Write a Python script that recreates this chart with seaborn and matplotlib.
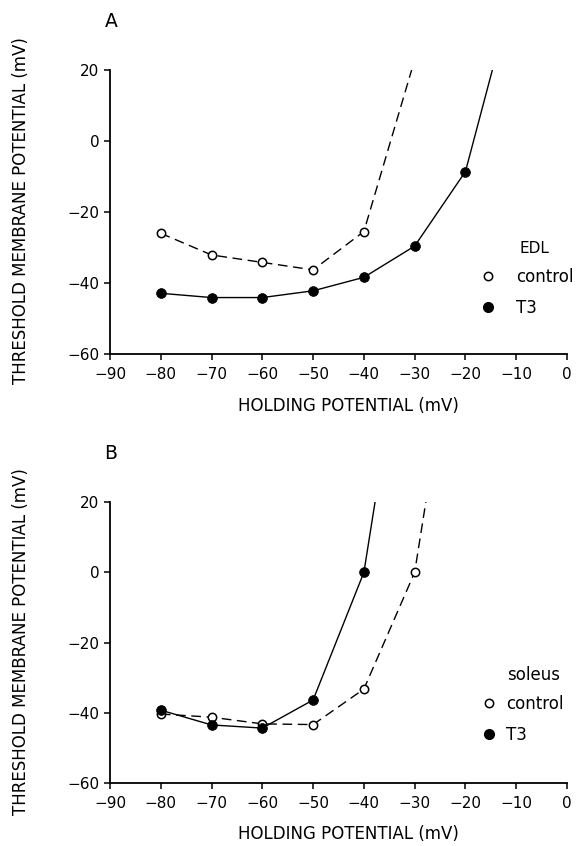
import matplotlib
matplotlib.use("Agg")
import matplotlib.pyplot as plt
import seaborn as sns
import pandas as pd
from matplotlib.lines import Line2D

# ---------------- data ----------------
# Panel A (EDL)
edl_ctrl_x = [-80, -70, -60, -50, -40]
edl_ctrl_y = [-26, -32.1, -34.2, -36.3, -25.5]
edl_ctrl_curve_x = [-80, -70, -60, -50, -40, -30.6]
edl_ctrl_curve_y = [-26, -32.1, -34.2, -36.3, -25.5, 20]

edl_t3_x = [-80, -70, -60, -50, -40, -30, -20]
edl_t3_y = [-42.9, -44.1, -44.1, -42.2, -38.4, -29.6, -8.6]
edl_t3_curve_x = [-80, -70, -60, -50, -40, -30, -20, -14.7]
edl_t3_curve_y = [-42.9, -44.1, -44.1, -42.2, -38.4, -29.6, -8.6, 20]

# Panel B (soleus)
sol_ctrl_x = [-80, -70, -60, -50, -40, -30]
sol_ctrl_y = [-40.3, -41.2, -43.1, -43.3, -33.2, 0]
sol_ctrl_curve_x = [-80, -70, -60, -50, -40, -30, -27.8]
sol_ctrl_curve_y = [-40.3, -41.2, -43.1, -43.3, -33.2, 0, 20]

sol_t3_x = [-80, -70, -60, -50, -40]
sol_t3_y = [-39.2, -43.4, -44.3, -36.3, 0]
sol_t3_curve_x = [-80, -70, -60, -50, -40, -37.8]
sol_t3_curve_y = [-39.2, -43.4, -44.3, -36.3, 0, 20]

x_ticks = [-90, -80, -70, -60, -50, -40, -30, -20, -10, 0]
y_ticks = [-60, -40, -20, 0, 20]
legend_labels = ["control", "T3"]

sns.set_style("ticks")
plt.rcParams['font.family'] = ['DejaVu Sans']
plt.rcParams.update({
    "text.color": "black",
    "axes.labelcolor": "black",
    "xtick.color": "black",
    "ytick.color": "black",
    "axes.edgecolor": "black",
})

fig = plt.figure(figsize=(5.79, 8.46), dpi=100)
W = 457 / 579
axA = fig.add_axes([110 / 579, (846 - 354) / 846, W, 284 / 846])
axB = fig.add_axes([110 / 579, (846 - 783.3) / 846, W, 281.3 / 846])


def draw(ax, cx, cy, ccx, ccy, tx, ty, tcx, tcy, title, letter,
         title_pos, title_size, leg_x, leg_y, textpad):
    dfc = pd.DataFrame({"x": ccx, "y": ccy})
    dft = pd.DataFrame({"x": tcx, "y": tcy})
    sns.lineplot(data=dfc, x="x", y="y", ax=ax, color="black", lw=1.0,
                 sort=False, estimator=None)
    ax.lines[-1].set_dashes([7, 4])
    sns.lineplot(data=dft, x="x", y="y", ax=ax, color="black", lw=1.0,
                 sort=False, estimator=None)
    sns.scatterplot(x=cx, y=cy, ax=ax, s=36, facecolor="white",
                    edgecolor="black", linewidth=1.1, zorder=5)
    sns.scatterplot(x=tx, y=ty, ax=ax, s=50, color="black",
                    edgecolor="black", linewidth=0.5, zorder=5)
    ax.set_xlim(-90, 0)
    ax.set_ylim(-60, 20)
    ax.set_xticks(x_ticks)
    ax.set_yticks(y_ticks)
    ax.tick_params(axis="x", labelsize=11, length=4, width=1.1,
                   direction="out", pad=5.5)
    ax.tick_params(axis="y", labelsize=11, length=4, width=1.1,
                   direction="out", pad=3.5)
    sns.despine(ax=ax)
    for sp in ["left", "bottom"]:
        ax.spines[sp].set_linewidth(1.3)
    ax.set_xlabel("HOLDING POTENTIAL (mV)", fontsize=12)
    ax.set_ylabel("THRESHOLD MEMBRANE POTENTIAL (mV)", fontsize=12)
    ax.xaxis.set_label_coords(0.521, -0.150)
    ax.yaxis.set_label_coords(-0.176, 0.505)
    ax.text(0.002, 1.172, letter, fontsize=13.5, ha="center", va="center",
            transform=ax.transAxes, clip_on=False)
    ax.text(title_pos[0], title_pos[1], title, fontsize=title_size,
            ha="left", va="center", transform=ax.transAxes)
    handles = [
        Line2D([], [], marker="o", ls="none", markerfacecolor="white",
               markeredgecolor="black", markeredgewidth=1.1, markersize=6),
        Line2D([], [], marker="o", ls="none", markerfacecolor="black",
               markeredgecolor="black", markersize=7),
    ]
    ax.legend(handles, legend_labels, frameon=False,
              loc="center left", bbox_to_anchor=(leg_x, leg_y),
              fontsize=12, handletextpad=textpad, labelspacing=0.8,
              borderaxespad=0, borderpad=0, handlelength=1.0)


draw(axA, edl_ctrl_x, edl_ctrl_y, edl_ctrl_curve_x, edl_ctrl_curve_y,
     edl_t3_x, edl_t3_y, edl_t3_curve_x, edl_t3_curve_y, "EDL", "A",
     (0.897, 0.370), 11, 0.809, 0.2165, 1.18)
draw(axB, sol_ctrl_x, sol_ctrl_y, sol_ctrl_curve_x, sol_ctrl_curve_y,
     sol_t3_x, sol_t3_y, sol_t3_curve_x, sol_t3_curve_y, "soleus", "B",
     (0.869, 0.385), 12, 0.811, 0.227, 0.52)

fig.savefig("out.png", dpi=100)
